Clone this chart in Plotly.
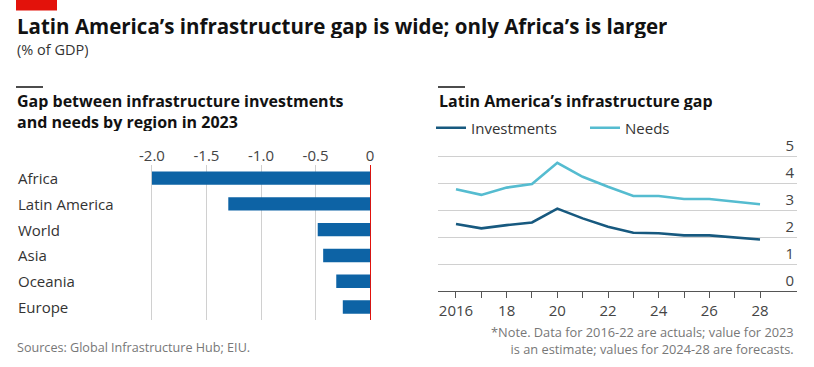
import plotly.graph_objects as go

W, H = 814, 367

# ---- data ----
regions = ["Africa", "Latin America", "World", "Asia", "Oceania", "Europe"]
gap_2023 = [-2.0, -1.3, -0.48, -0.43, -0.31, -0.25]

years = list(range(2016, 2029))
investments = [2.48, 2.32, 2.44, 2.54, 3.05, 2.69, 2.38, 2.16, 2.14, 2.06, 2.06, 1.99, 1.91]
needs = [3.77, 3.56, 3.83, 3.96, 4.75, 4.23, 3.86, 3.52, 3.52, 3.41, 3.41, 3.31, 3.21]

bar_ticks = [-2.0, -1.5, -1.0, -0.5, 0]
bar_tick_labels = ["-2.0", "-1.5", "-1.0", "-0.5", "0"]
year_ticks = years
year_tick_labels = ["2016", "", "18", "", "20", "", "22", "", "24", "", "26", "", "28"]
line_ticks = [0, 1, 2, 3, 4, 5]

FONT = "Open Sans"
BAR_C = "#0d63a5"
INV_C = "#17597f"
NEED_C = "#55bcd0"
GRID_C = "#d0d0d0"


def px(x):
    return x / W


def py(y):
    return 1 - y / H


fig = go.Figure()

fig.add_trace(go.Bar(
    x=gap_2023, y=regions, orientation="h", marker=dict(color=BAR_C, line=dict(width=0)),
    width=0.52, xaxis="x", yaxis="y", showlegend=False, hoverinfo="skip"))

fig.add_trace(go.Scatter(
    x=years, y=investments, mode="lines", name="Investments",
    line=dict(color=INV_C, width=2.6), xaxis="x2", yaxis="y2"))
fig.add_trace(go.Scatter(
    x=years, y=needs, mode="lines", name="Needs",
    line=dict(color=NEED_C, width=2.6), xaxis="x2", yaxis="y2"))

# left axis geometry: -2 at px 152, 0 at px 370; right: 0 at py 291, 27 px per unit
Y2_TOP = 6.2
fig.update_layout(
    width=W, height=H, margin=dict(l=0, r=0, t=0, b=0, autoexpand=False),
    paper_bgcolor="white", plot_bgcolor="white",
    font=dict(family=FONT, color="#333333", size=15),
    xaxis=dict(domain=[px(145.4), px(377.7)], range=[-2.06, 0.07], side="top",
               tickvals=bar_ticks, ticktext=bar_tick_labels, showgrid=True, automargin=False,
               gridcolor=GRID_C, gridwidth=1, zeroline=True, zerolinecolor="#e3120b",
               zerolinewidth=1, showline=False, ticks="", tickfont=dict(size=15, color="#444")),
    yaxis=dict(domain=[py(319.9), py(165.2)], autorange="reversed", showticklabels=False,
               showgrid=False, zeroline=False, showline=False, ticks="", automargin=False),
    xaxis2=dict(domain=[px(438), px(797)], range=[2015.29, 2029.46], anchor="y2",
                tickvals=year_ticks, ticktext=year_tick_labels, ticks="outside", ticklen=6,
                tickcolor="#555", tickwidth=1.2, showline=True, linecolor="#555", linewidth=1.2,
                showgrid=False, zeroline=False, automargin=False,
                tickfont=dict(size=15, color="#444")),
    yaxis2=dict(domain=[py(291), py(291 - Y2_TOP * 27)], range=[0, Y2_TOP], anchor="x2",
                side="right", tickvals=line_ticks, ticklabelposition="inside top", showgrid=True,
                gridcolor=GRID_C, gridwidth=1, zeroline=False, showline=False, ticks="",
                automargin=False, tickfont=dict(size=15, color="#444")),
    legend=dict(orientation="h", x=px(431), y=py(128), xanchor="left", yanchor="middle",
                font=dict(size=15, color="#333"), entrywidth=109, entrywidthmode="pixels",
                bgcolor="rgba(0,0,0,0)", borderwidth=0, itemwidth=30),
)

# category labels (left aligned)
for r in regions:
    fig.add_annotation(x=px(16), xref="paper", y=r, yref="y", text=r, showarrow=False,
                       xanchor="left", yanchor="middle", font=dict(size=15, color="#333"))

shapes = [
    dict(type="rect", xref="paper", yref="paper", x0=px(16), x1=px(57), y0=py(10.5), y1=py(0),
         fillcolor="#e3120b", line=dict(width=0)),
    dict(type="line", xref="paper", yref="paper", x0=px(16), x1=px(43), y0=py(87), y1=py(87),
         line=dict(color="#111", width=1.5)),
    dict(type="line", xref="paper", yref="paper", x0=px(438), x1=px(465), y0=py(87), y1=py(87),
         line=dict(color="#111", width=1.5)),
]
fig.update_layout(shapes=shapes)

texts = [
    (16, 26, "<b>Latin America’s infrastructure gap is wide; only Africa’s is larger</b>", 20.5, "#121212", "left", 24),
    (16, 49.5, "(% of GDP)", 14.5, "#333", "left", 18),
    (16, 101, "<b>Gap between infrastructure investments</b>", 16, "#121212", "left", 19),
    (16, 121, "<b>and needs by region in 2023</b>", 16, "#121212", "left", 19),
    (438, 101, "<b>Latin America’s infrastructure gap</b>", 16, "#121212", "left", 19),
    (16, 347, "Sources: Global Infrastructure Hub; EIU.", 12.6, "#777", "left", 16),
    (795, 340, "*Note. Data for 2016-22 are actuals; value for 2023<br>"
               "is an estimate; values for 2024-28 are forecasts.", 12.8, "#777", "right", None),
]
for x, y, t, s, c, a, h in texts:
    fig.add_annotation(x=px(x), y=py(y), xref="paper", yref="paper", text=t, showarrow=False,
                       xanchor=a, yanchor="middle", align=a, height=h, borderpad=0,
                       font=dict(size=s, color=c))

fig.write_html("out.html", config={"displayModeBar": False},
               post_script="document.body.style.margin='0';document.body.style.overflow='hidden';")
